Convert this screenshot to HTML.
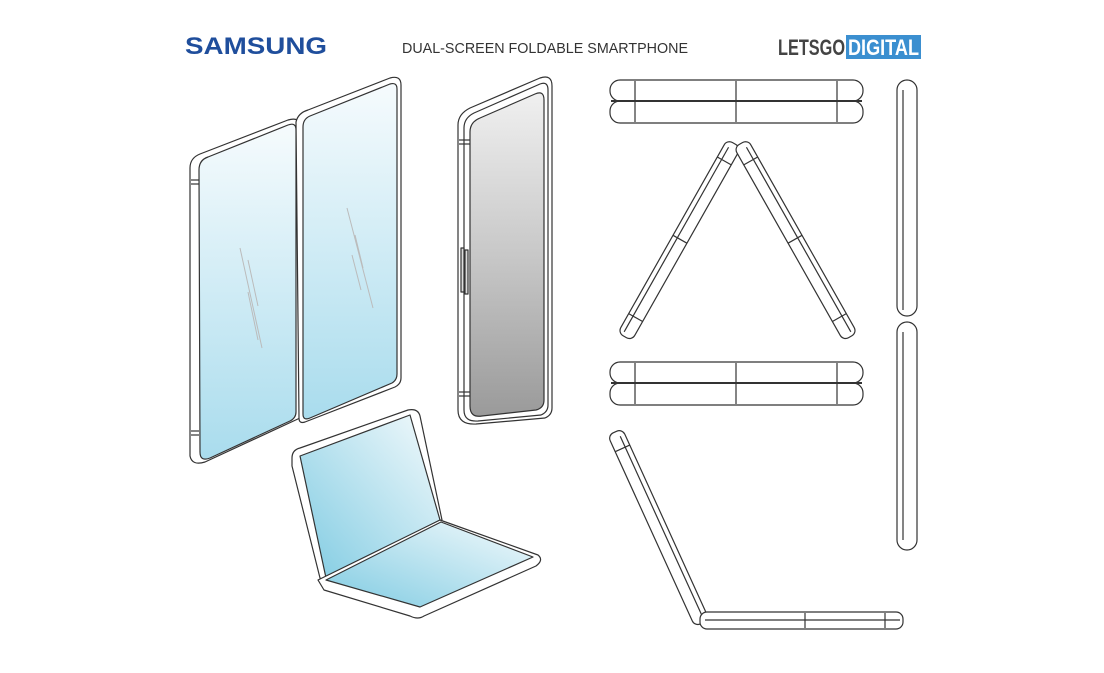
<!DOCTYPE html>
<html><head><meta charset="utf-8"><style>
body{margin:0;background:#fff;width:1104px;height:673px;overflow:hidden}
svg{display:block}
</style></head><body>
<svg width="1104" height="673" viewBox="0 0 1104 673" xmlns="http://www.w3.org/2000/svg">
<defs>
<linearGradient id="bl" x1="0" y1="0" x2="0" y2="1"><stop offset="0" stop-color="#f6fbfd"/><stop offset="1" stop-color="#a9dced"/></linearGradient>
<linearGradient id="gr" x1="0" y1="0" x2="0" y2="1"><stop offset="0" stop-color="#f0f0f0"/><stop offset="0.5" stop-color="#c8c8c8"/><stop offset="1" stop-color="#9a9a9a"/></linearGradient>
<linearGradient id="lp" x1="1" y1="0" x2="0" y2="1"><stop offset="0" stop-color="#f4fafc"/><stop offset="1" stop-color="#7fcbe2"/></linearGradient>
</defs>
<text x="185" y="54" font-family="Liberation Sans, sans-serif" font-weight="bold" font-size="24" fill="#1f4e9c" textLength="142" lengthAdjust="spacingAndGlyphs">SAMSUNG</text>
<text x="402" y="53" font-family="Liberation Sans, sans-serif" font-size="15" fill="#333" textLength="286" lengthAdjust="spacingAndGlyphs">DUAL-SCREEN FOLDABLE SMARTPHONE</text>
<text x="778" y="55" font-family="Liberation Sans, sans-serif" font-weight="bold" font-size="22" fill="#444" textLength="67" lengthAdjust="spacingAndGlyphs">LETSGO</text>
<rect x="846" y="35" width="75" height="24" fill="#3b8fd0"/>
<text x="848" y="55" font-family="Liberation Sans, sans-serif" font-weight="bold" font-size="22" fill="#fff" textLength="71" lengthAdjust="spacingAndGlyphs">DIGITAL</text>

<g stroke="#333" stroke-width="1.2" fill="#fff" stroke-linejoin="round">
<path d="M190,168 Q190,158 200,154 L288,120 Q298,117 300,124 L300,418 L205,462 Q192,466 190,456 Z"/>
<path d="M199,170 Q199,160 208,157 L288,125 Q296,122 296,130 L296,412 Q296,418 290,421 L210,458 Q200,462 200,452 Z" fill="url(#bl)"/>
<path d="M296,122 Q298,113 308,110 L390,78 Q401,75 401,85 L401,378 Q401,384 395,387 L305,422 Q299,424 299,418 Z"/>
<path d="M303,127 Q303,119 310,116 L390,84 Q397,82 397,89 L397,374 Q397,380 392,383 L310,418 Q303,421 303,414 Z" fill="url(#bl)"/>
<line x1="191" y1="180" x2="199" y2="180"/><line x1="191" y1="184" x2="199" y2="184"/>
<line x1="191" y1="431" x2="199" y2="431"/><line x1="191" y1="435" x2="199" y2="435"/>
<g stroke="#bbb" stroke-width="1"><line x1="240" y1="248" x2="262" y2="348"/><line x1="248" y1="260" x2="258" y2="306"/><line x1="248" y1="292" x2="258" y2="340"/><line x1="347" y1="208" x2="373" y2="308"/><line x1="355" y1="235" x2="363" y2="268"/><line x1="352" y1="255" x2="361" y2="290"/></g>

<path d="M458,125 Q458,114 470,108 L540,78 Q552,74 552,86 L552,408 Q552,415 545,418 L476,424 Q458,425 458,410 Z"/>
<path d="M464,128 Q464,118 474,113 L540,84 Q548,81 548,90 L548,405 Q548,412 541,415 L478,421 Q464,422 464,410 Z"/>
<path d="M470,132 Q470,122 480,118 L535,94 Q544,90 544,100 L544,400 Q544,408 536,410 L482,416 Q470,418 470,406 Z" fill="url(#gr)"/>
<line x1="459" y1="140" x2="470" y2="140"/><line x1="459" y1="144" x2="470" y2="144"/>
<line x1="459" y1="392" x2="470" y2="392"/><line x1="459" y1="396" x2="470" y2="396"/>
<rect x="461" y="248" width="3" height="44" fill="#ddd"/><rect x="465" y="250" width="3" height="44" fill="#ddd"/>

<path d="M292,458 Q292,450 300,448 L408,410 Q418,408 420,416 L442,520 L326,582 L320,578 L292,466 Z"/>
<path d="M300,456 L410,415 L440,520 L326,578 Z" fill="url(#lp)"/>
<path d="M318,580 L440,520 L538,555 Q544,560 536,566 L424,616 Q418,620 410,616 L324,590 Z"/>
<path d="M326,580 L441,522 L533,557 L420,607 Z" fill="url(#lp)"/>

<rect x="610" y="80" width="253" height="21" rx="10"/>
<rect x="610" y="101" width="253" height="22" rx="10"/>
<line x1="611" y1="101" x2="862" y2="101" stroke-width="2"/>
<line x1="635" y1="81" x2="635" y2="122"/><line x1="736" y1="81" x2="736" y2="122"/><line x1="837" y1="81" x2="837" y2="122"/>
<rect x="610" y="362" width="253" height="21" rx="10"/>
<rect x="610" y="383" width="253" height="22" rx="10"/>
<line x1="611" y1="383" x2="862" y2="383" stroke-width="2"/>
<line x1="635" y1="363" x2="635" y2="404"/><line x1="736" y1="363" x2="736" y2="404"/><line x1="837" y1="363" x2="837" y2="404"/>

<g transform="translate(735,144) rotate(29.5)"><rect x="-9" y="0" width="16" height="222" rx="6"/><line x1="-4" y1="6" x2="-4" y2="218"/><line x1="-9" y1="20" x2="7" y2="20"/><line x1="-9" y1="110" x2="7" y2="110"/><line x1="-9" y1="200" x2="7" y2="200"/></g>
<g transform="translate(740,144) rotate(-29.5)"><rect x="-7" y="0" width="16" height="222" rx="6"/><line x1="4" y1="6" x2="4" y2="218"/><line x1="-7" y1="20" x2="9" y2="20"/><line x1="-7" y1="110" x2="9" y2="110"/><line x1="-7" y1="200" x2="9" y2="200"/></g>

<g transform="translate(615,432) rotate(-24.5)"><rect x="-8" y="0" width="16" height="210" rx="6"/><line x1="3" y1="6" x2="3" y2="205"/><line x1="-8" y1="18" x2="8" y2="18"/></g>
<rect x="700" y="612" width="203" height="17" rx="7"/>
<line x1="705" y1="620" x2="900" y2="620"/><line x1="805" y1="613" x2="805" y2="628"/><line x1="885" y1="613" x2="885" y2="628"/>

<rect x="897" y="80" width="20" height="236" rx="10"/>
<rect x="897" y="322" width="20" height="228" rx="10"/>
<line x1="903" y1="90" x2="903" y2="310"/><line x1="903" y1="332" x2="903" y2="540"/>
</g>
</svg>
</body></html>
